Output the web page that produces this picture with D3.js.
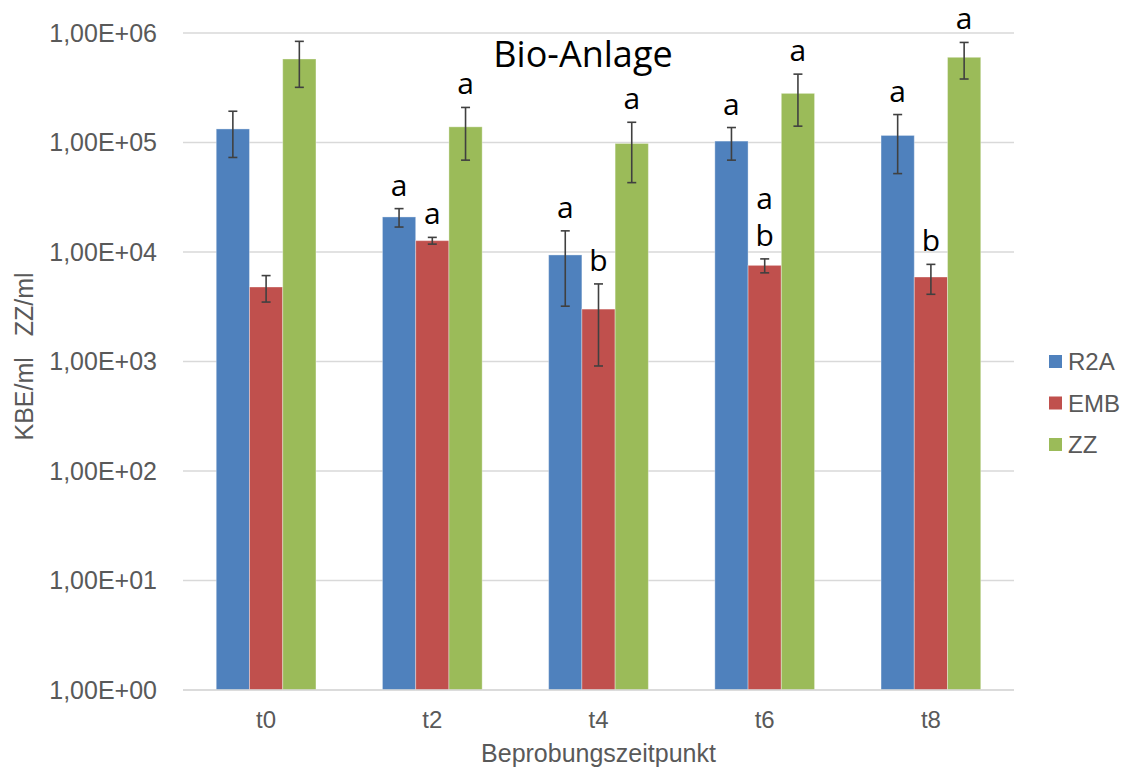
<!DOCTYPE html>
<html>
<head>
<meta charset="utf-8">
<script src="https://cdn.jsdelivr.net/npm/d3@7"></script>
<style>
  html, body { margin: 0; padding: 0; background: #fff; }
  svg { display: block; }
  .tick-label { font-family: "Liberation Sans", Arial, sans-serif; fill: #595959; }
  .sig { font-family: "Open Sans", "Noto Sans", sans-serif; fill: #000; }
</style>
</head>
<body>
<div id="chart"></div>
<script>
const categories = ['t0', 't2', 't4', 't6', 't8'];
const seriesNames = ['R2A', 'EMB', 'ZZ'];
const seriesColors = ['#4f81bd', '#c0504d', '#9bbb59'];

const r2aValues = [133000, 20900, 9400, 103000, 116000];
const r2aErrors = [60000, 4000, 6200, 34000, 64000];
const embValues = [4790, 12700, 3010, 7550, 5910];
const embErrors = [1300, 900, 2100, 1100, 1800];
const zzValues = [579000, 139000, 98000, 281000, 600000];
const zzErrors = [260000, 70000, 55000, 140000, 220000];

const r2aLetters = [[], ['a'], ['a'], ['a'], ['a']];
const embLetters = [[], ['a'], ['b'], ['a', 'b'], ['b']];
const zzLetters = [[], ['a'], ['a'], ['a'], ['a']];

const yTicks = [1, 10, 100, 1000, 10000, 100000, 1000000];

const width = 1133;
const height = 769;
const margin = { top: 33, right: 119, bottom: 79, left: 183 };

const values = [r2aValues, embValues, zzValues];
const errors = [r2aErrors, embErrors, zzErrors];
const letters = [r2aLetters, embLetters, zzLetters];

const rows = [];
categories.forEach((cat, ci) => {
  seriesNames.forEach((name, si) => {
    rows.push({ cat, name, si, value: values[si][ci], err: errors[si][ci], letters: letters[si][ci] });
  });
});

const svg = d3.select('#chart').append('svg').attr('width', width).attr('height', height);

const x = d3.scaleBand().domain(categories)
  .range([margin.left, width - margin.right])
  .paddingInner(0.4).paddingOuter(0.2);
const xs = d3.scaleBand().domain(seriesNames).range([0, x.bandwidth()]);
const y = d3.scaleLog().domain([1, 1e6]).range([height - margin.bottom, margin.top]);

// gridlines
svg.append('g').selectAll('line').data(yTicks).join('line')
  .attr('x1', margin.left).attr('x2', width - margin.right)
  .attr('y1', (d) => y(d)).attr('y2', (d) => y(d))
  .attr('stroke', '#d9d9d9').attr('stroke-width', 1.5);

// y tick labels
const fmt = (d) => {
  const e = Math.round(Math.log10(d));
  return '1,00E+' + String(e).padStart(2, '0');
};
svg.append('g').selectAll('text').data(yTicks).join('text')
  .attr('class', 'tick-label')
  .attr('x', 157).attr('y', (d) => y(d))
  .attr('dy', '0.35em').attr('text-anchor', 'end')
  .attr('font-size', 25)
  .text(fmt);

// bars
const bx = (d) => x(d.cat) + xs(d.name);
svg.append('g').selectAll('rect').data(rows).join('rect')
  .attr('x', bx).attr('width', xs.bandwidth())
  .attr('y', (d) => y(d.value))
  .attr('height', (d) => y(1) - y(d.value))
  .attr('fill', (d) => seriesColors[d.si])
  .attr('stroke', 'rgba(255,255,255,0.35)').attr('stroke-width', 1);

// error bars
const eb = svg.append('g').attr('stroke', '#404040').attr('stroke-width', 1.6);
rows.forEach((d) => {
  const cx = bx(d) + xs.bandwidth() / 2;
  const top = y(d.value + d.err);
  const bot = y(Math.max(d.value - d.err, 1));
  eb.append('line').attr('x1', cx).attr('x2', cx).attr('y1', top).attr('y2', bot);
  eb.append('line').attr('x1', cx - 4.5).attr('x2', cx + 4.5).attr('y1', top).attr('y2', top);
  eb.append('line').attr('x1', cx - 4.5).attr('x2', cx + 4.5).attr('y1', bot).attr('y2', bot);
});

// significance letters
const sig = svg.append('g');
rows.forEach((d) => {
  const cx = bx(d) + xs.bandwidth() / 2;
  const base = y(d.value + d.err) - 13;
  const n = d.letters.length;
  d.letters.forEach((l, i) => {
    sig.append('text').attr('class', 'sig')
      .attr('x', cx).attr('y', base - (n - 1 - i) * 37)
      .attr('text-anchor', 'middle').attr('font-size', 30)
      .text(l);
  });
});

// x axis line
svg.append('line')
  .attr('x1', margin.left).attr('x2', width - margin.right)
  .attr('y1', y(1)).attr('y2', y(1))
  .attr('stroke', '#d9d9d9').attr('stroke-width', 1.5);

svg.append('g').selectAll('text').data(categories).join('text')
  .attr('class', 'tick-label')
  .attr('x', (d) => x(d) + x.bandwidth() / 2).attr('y', 728)
  .attr('text-anchor', 'middle').attr('font-size', 24)
  .text((d) => d);

// axis titles
svg.append('text').attr('class', 'tick-label')
  .attr('x', (margin.left + width - margin.right) / 2).attr('y', 762)
  .attr('text-anchor', 'middle').attr('font-size', 25)
  .text('Beprobungszeitpunkt');

svg.append('text').attr('class', 'tick-label')
  .attr('transform', `translate(33,${(y(1) + y(1e6)) / 2 - 5}) rotate(-90)`)
  .attr('text-anchor', 'middle').attr('font-size', 25)
  .attr('xml:space', 'preserve')
  .text('KBE/ml   ZZ/ml');

// title
svg.append('text')
  .attr('x', 583).attr('y', 67)
  .attr('text-anchor', 'middle')
  .attr('font-family', '"Open Sans", "Noto Sans", sans-serif')
  .attr('font-size', 36).attr('fill', '#000')
  .text('Bio-Anlage');

// legend
const legend = svg.append('g');
seriesNames.forEach((name, i) => {
  const cy = 362 + i * 41.5;
  legend.append('rect').attr('x', 1049).attr('y', cy - 7).attr('width', 13).attr('height', 13)
    .attr('fill', seriesColors[i]);
  legend.append('text').attr('class', 'tick-label')
    .attr('x', 1068).attr('y', cy).attr('dy', '0.35em')
    .attr('font-size', 24).text(name);
});
</script>
</body>
</html>
